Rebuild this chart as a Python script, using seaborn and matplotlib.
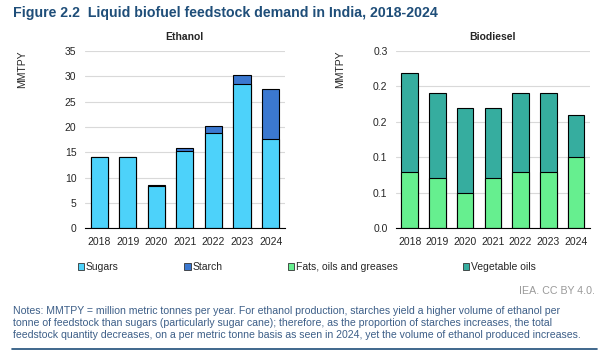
import matplotlib
matplotlib.use("Agg")
import matplotlib.pyplot as plt
import seaborn as sns
import pandas as pd
from matplotlib.patches import Patch
from matplotlib.lines import Line2D

years = ["2018", "2019", "2020", "2021", "2022", "2023", "2024"]
sugars = [14.0, 14.1, 8.3, 15.2, 18.8, 28.4, 17.6]
starch = [0.0, 0.0, 0.2, 0.6, 1.3, 1.9, 9.9]
fats = [0.096, 0.085, 0.060, 0.085, 0.096, 0.096, 0.120]
veg_oils = [0.167, 0.143, 0.144, 0.119, 0.132, 0.132, 0.071]

eth_ticks = [0, 5, 10, 15, 20, 25, 30, 35]
bio_ticks = [0, 0.06, 0.12, 0.18, 0.24, 0.30]

c_sugars = "#4dd2fa"
c_starch = "#3b78d0"
c_fats = "#66ef8f"
c_veg = "#36ad9f"
navy = "#1f4e79"
note_col = "#3d5f88"

sns.set_style("white")
plt.rcParams["font.family"] = ["Liberation Sans", "DejaVu Sans"]

eth = pd.DataFrame({"year": years, "sugars": sugars,
                    "total": [a + b for a, b in zip(sugars, starch)]})
bio = pd.DataFrame({"year": years, "fats": fats,
                    "total": [a + b for a, b in zip(fats, veg_oils)]})

fig = plt.figure(figsize=(6.10, 3.58), dpi=100)
ax1 = fig.add_axes([0.139, 0.362, 0.328, 0.496])
ax2 = fig.add_axes([0.649, 0.362, 0.318, 0.496])

edge = dict(edgecolor="black", linewidth=0.8)
sns.barplot(data=eth, x="year", y="total", color=c_starch, saturation=1, width=0.6, ax=ax1, **edge)
sns.barplot(data=eth, x="year", y="sugars", color=c_sugars, saturation=1, width=0.6, ax=ax1, **edge)
sns.barplot(data=bio, x="year", y="total", color=c_veg, saturation=1, width=0.6, ax=ax2, **edge)
sns.barplot(data=bio, x="year", y="fats", color=c_fats, saturation=1, width=0.6, ax=ax2, **edge)

for ax, ticks, labs, title, ylx in [
        (ax1, eth_ticks, [str(t) for t in eth_ticks], "Ethanol", -0.29),
        (ax2, bio_ticks, ["{:.1f}".format(t) for t in bio_ticks], "Biodiesel", -0.262)]:
    ax.set_ylim(ticks[0], ticks[-1])
    ax.set_yticks(ticks)
    ax.set_yticklabels(labs, fontsize=7.5)
    ax.set_xlim(-0.5, 6.5)
    ax.set_xlabel("")
    ax.set_ylabel("MMTPY", fontsize=7.5, loc="top")
    ax.yaxis.set_label_coords(ylx, 1.0)
    ax.set_title(title, fontsize=7.5, fontweight="bold", pad=8)
    ax.grid(axis="y", color="#d9d9d9", linewidth=0.8)
    ax.set_axisbelow(True)
    for s in ["top", "right", "left"]:
        ax.spines[s].set_visible(False)
    ax.spines["bottom"].set_color("black")
    ax.spines["bottom"].set_linewidth(0.8)
    ax.tick_params(axis="y", length=0, pad=6)
    ax.tick_params(axis="x", length=0, labelsize=7.5, pad=6)
    # category boundary ticks
    ax.set_xticks([i - 0.5 for i in range(8)], minor=True)
    ax.tick_params(axis="x", which="minor", length=3, width=0.8, color="black", direction="out")

fig.text(0.022, 0.965, "Figure 2.2  Liquid biofuel feedstock demand in India, 2018-2024",
         fontsize=10.2, fontweight="bold", color=navy, va="center")

handles = [Patch(facecolor=c, edgecolor="#333333", linewidth=0.6) for c in [c_sugars, c_starch, c_fats, c_veg]]
fig.legend(handles, ["Sugars", "Starch", "Fats, oils and greases", "Vegetable oils"],
           loc="center left", bbox_to_anchor=(0.128, 0.254), ncol=4, frameon=False,
           fontsize=7.5, handlelength=0.6, handleheight=0.6, handletextpad=0.15,
           columnspacing=6.3, borderaxespad=0, borderpad=0)

fig.text(0.975, 0.188, "IEA. CC BY 4.0.", fontsize=7.7, color="#9a9a9a", ha="right", va="center")

notes = ("Notes: MMTPY = million metric tonnes per year. For ethanol production, starches yield a higher volume of ethanol per\n"
         "tonne of feedstock than sugars (particularly sugar cane); therefore, as the proportion of starches increases, the total\n"
         "feedstock quantity decreases, on a per metric tonne basis as seen in 2024, yet the volume of ethanol produced increases.")
fig.text(0.022, 0.098, notes, fontsize=7.6, color=note_col, va="center", linespacing=1.26)

fig.add_artist(Line2D([0.02, 0.979], [0.025, 0.025], color=navy, linewidth=1.2))

fig.savefig("out.png", dpi=100)
